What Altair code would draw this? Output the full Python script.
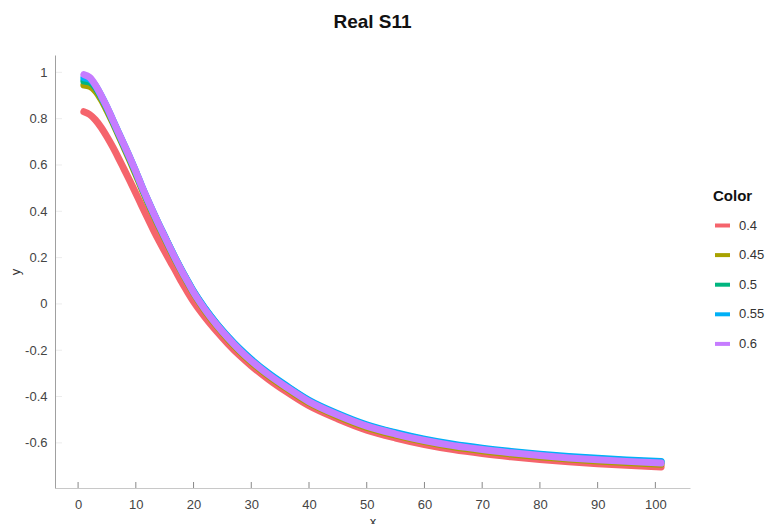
import altair as alt
import pandas as pd

x_vals = [1, 2, 3, 4, 5, 6, 7, 8, 9, 10, 11, 12, 13, 14, 15, 16, 17, 18, 19, 20,
          22, 24, 26, 28, 30, 33, 36, 40, 45, 50, 55, 60, 65, 70, 75, 80, 85, 90, 95, 101]

s_040 = [0.83, 0.818, 0.795, 0.762, 0.722, 0.678, 0.63, 0.58, 0.53, 0.478, 0.425, 0.373, 0.322, 0.273, 0.227,
         0.182, 0.138, 0.092, 0.05, 0.01, -0.058, -0.118, -0.173, -0.223, -0.267, -0.326, -0.378, -0.44,
         -0.497, -0.545, -0.579, -0.607, -0.629, -0.646, -0.66, -0.672, -0.682, -0.69, -0.697, -0.704]
s_045 = [0.945, 0.94, 0.92, 0.883, 0.836, 0.784, 0.729, 0.674, 0.618, 0.56, 0.5, 0.442, 0.387, 0.334, 0.283,
         0.232, 0.182, 0.135, 0.09, 0.046, -0.03, -0.095, -0.153, -0.205, -0.251, -0.311, -0.363, -0.427,
         -0.485, -0.533, -0.567, -0.595, -0.617, -0.634, -0.648, -0.66, -0.67, -0.678, -0.685, -0.692]
s_050 = [0.963, 0.958, 0.935, 0.894, 0.845, 0.791, 0.736, 0.681, 0.626, 0.568, 0.507, 0.449, 0.394, 0.341, 0.29,
         0.238, 0.188, 0.141, 0.096, 0.052, -0.022, -0.087, -0.145, -0.197, -0.243, -0.303, -0.355, -0.419,
         -0.477, -0.525, -0.559, -0.587, -0.609, -0.626, -0.64, -0.652, -0.662, -0.67, -0.677, -0.684]
s_055 = [0.977, 0.97, 0.943, 0.899, 0.849, 0.795, 0.74, 0.685, 0.63, 0.572, 0.51, 0.452, 0.397, 0.343, 0.292,
         0.24, 0.19, 0.143, 0.098, 0.054, -0.02, -0.085, -0.142, -0.194, -0.24, -0.3, -0.352, -0.416,
         -0.474, -0.522, -0.556, -0.584, -0.606, -0.623, -0.637, -0.649, -0.659, -0.667, -0.674, -0.681]
s_060 = [0.99, 0.978, 0.945, 0.9, 0.85, 0.795, 0.74, 0.685, 0.63, 0.572, 0.51, 0.452, 0.396, 0.342, 0.29,
         0.238, 0.188, 0.14, 0.095, 0.05, -0.025, -0.09, -0.148, -0.2, -0.246, -0.306, -0.358, -0.422,
         -0.48, -0.528, -0.562, -0.59, -0.612, -0.629, -0.643, -0.655, -0.665, -0.673, -0.68, -0.687]

series_names = ["0.4", "0.45", "0.5", "0.55", "0.6"]
series_values = [s_040, s_045, s_050, s_055, s_060]
series_colors = ["#F5646C", "#A8A200", "#00B57F", "#00B0F6", "#C67CFF"]

x_ticks = [0, 10, 20, 30, 40, 50, 60, 70, 80, 90, 100]
y_ticks = [-0.6, -0.4, -0.2, 0, 0.2, 0.4, 0.6, 0.8, 1]

rows = []
for name, ys in zip(series_names, series_values):
    for xv, yv in zip(x_vals, ys):
        rows.append({"x": xv, "y": yv, "Color": name})
df = pd.DataFrame(rows)

FONT = "Liberation Sans"
x_scale = alt.Scale(domain=[-4, 106], nice=False, zero=False)
y_scale = alt.Scale(domain=[-0.795, 1.075], nice=False, zero=False)

x_axis = alt.Axis(values=x_ticks, title="x", grid=False, ticks=False, domainColor="#c8c8c8",
                  labelPadding=10, labelFontSize=13, labelColor="#444", labelFont=FONT,
                  titleFont=FONT, titleFontSize=13, titleFontWeight="normal", titleColor="#333",
                  titlePadding=4)
y_axis = alt.Axis(values=y_ticks, title="y", grid=False, ticks=False, domainColor="#a0a0a0",
                  labelPadding=8, labelFontSize=13, labelColor="#444", labelFont=FONT,
                  labelExpr="'' + datum.value",
                  titleFont=FONT, titleFontSize=13, titleFontWeight="normal", titleColor="#333",
                  titlePadding=2)

lines = alt.Chart(df).mark_line(strokeWidth=7, strokeCap="round", interpolate="monotone").encode(
    x=alt.X("x:Q", scale=x_scale, axis=x_axis),
    y=alt.Y("y:Q", scale=y_scale, axis=y_axis),
    color=alt.Color("Color:N", scale=alt.Scale(domain=series_names, range=series_colors),
                    sort=series_names,
                    legend=alt.Legend(title="Color", orient="none", legendX=658, legendY=134,
                                      titleFont=FONT, titleFontSize=15, titleFontWeight="bold",
                                      titleColor="#111", titlePadding=12,
                                      labelFont=FONT, labelFontSize=13, labelColor="#333",
                                      symbolType="stroke", symbolStrokeWidth=4, symbolSize=225,
                                      rowPadding=11.6, labelOffset=7)),
)

xt_df = pd.DataFrame({"x": x_ticks})
x_tick_marks = alt.Chart(xt_df).mark_tick(color="#555", thickness=1, size=6).encode(
    x=alt.X("x:Q", scale=x_scale, axis=x_axis),
    y=alt.value(430),
)

yt_df = pd.DataFrame({"y": y_ticks})
y_tick_marks = alt.Chart(yt_df).mark_tick(color="#e4e4e4", thickness=1, size=6).encode(
    y=alt.Y("y:Q", scale=y_scale, axis=y_axis),
    x=alt.value(4),
)

chart = alt.layer(lines, x_tick_marks, y_tick_marks).properties(
    width=635, height=433,
    background="white",
    title=alt.TitleParams("Real S11", font=FONT, fontSize=19, fontWeight="bold", color="#111",
                          anchor="middle", offset=23),
    autosize=alt.AutoSizeParams(type="none"),
    padding={"left": 55, "top": 55, "right": 77, "bottom": 36},
).configure_view(stroke="transparent", strokeWidth=0)

chart.save("out.html", embed_options={"renderer": "svg", "actions": False})
